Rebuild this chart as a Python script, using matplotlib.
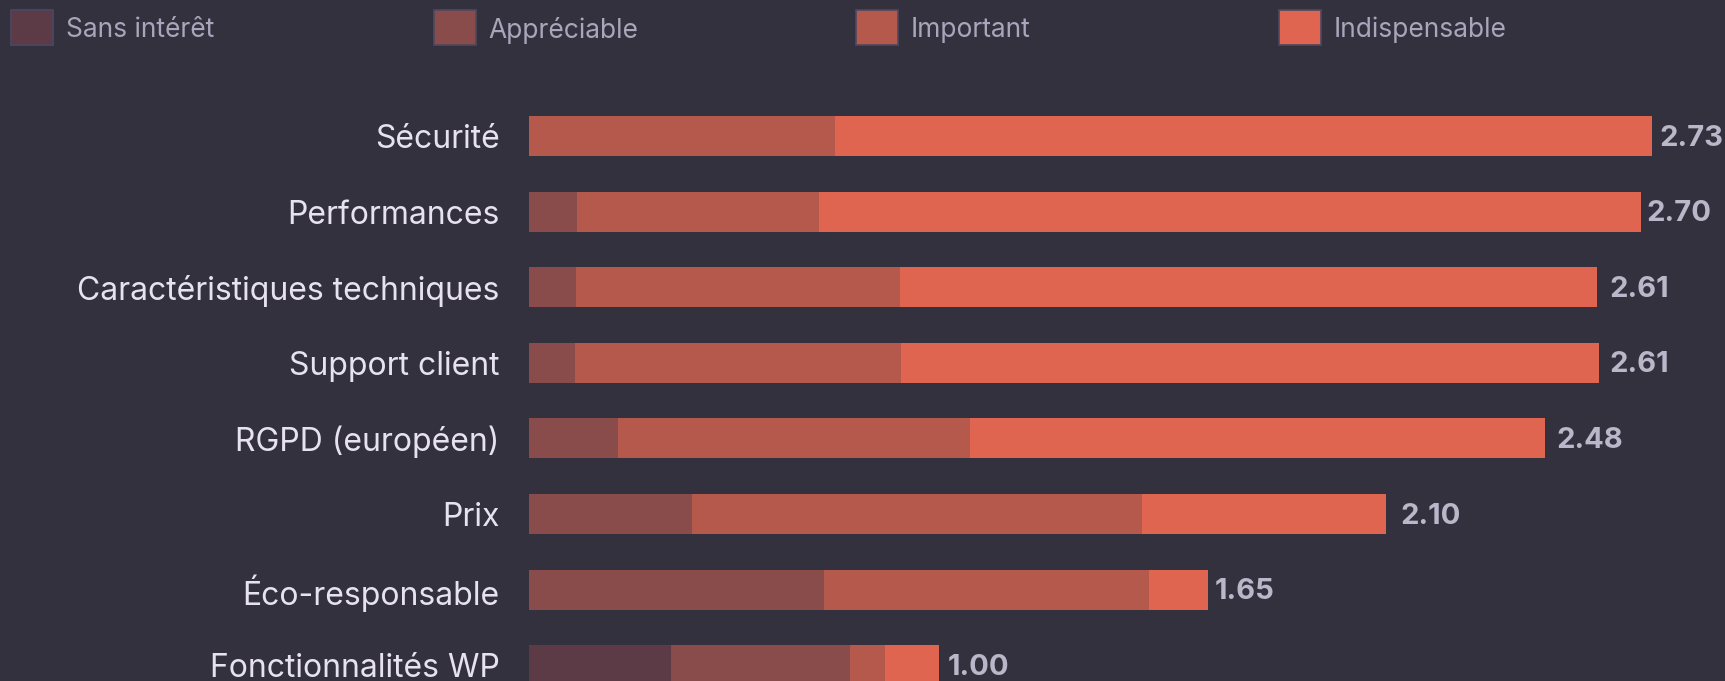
import matplotlib
matplotlib.use("Agg")
import matplotlib.pyplot as plt
from matplotlib.patches import Rectangle

categories = ["Sécurité", "Performances", "Caractéristiques techniques", "Support client",
              "RGPD (européen)", "Prix", "Éco-responsable", "Fonctionnalités WP"]
levels = ["Sans intérêt", "Appréciable", "Important", "Indispensable"]
sans_interet = [0.0, 0.0, 0.0, 0.0, 0.0, 0.0, 0.0, 0.345]
appreciable = [0.0, 0.117, 0.114, 0.112, 0.217, 0.397, 0.718, 0.436]
important = [0.745, 0.589, 0.788, 0.793, 0.856, 1.092, 0.788, 0.085]
indispensable = [1.985, 1.998, 1.693, 1.696, 1.397, 0.594, 0.144, 0.131]
scores = [2.73, 2.70, 2.61, 2.61, 2.48, 2.10, 1.65, 1.00]

colors = ["#5c3b46", "#8a4b4b", "#b4594c", "#e06550"]
BG = "#34313f"

W, H = 1725, 681
fig = plt.figure(figsize=(W / 100, H / 100), dpi=100, facecolor=BG)
x0 = 529
ax = fig.add_axes([x0 / W, 0, 1 - x0 / W, 1])
ax.set_facecolor(BG)

px_per_unit = 411.4
ax.set_xlim(0, (W - x0) / px_per_unit)
row = 75.6
top_center = 136
ax.set_ylim((H - top_center) / row, -top_center / row)

series = [sans_interet, appreciable, important, indispensable]
y = list(range(len(categories)))
left = [0.0] * len(categories)
for vals, c in zip(series, colors):
    ax.barh(y, vals, left=left, height=40 / row, color=c, edgecolor="none", linewidth=0)
    left = [l + v for l, v in zip(left, vals)]

for i, s in enumerate(scores):
    ax.annotate(f"{s:.2f}", xy=(s, i), xytext=(7, -2), textcoords="offset pixels",
                ha="left", va="center", fontsize=21, fontweight="bold",
                color="#bab7ca", family="Inter")

ax.set_yticks(y)
ax.set_yticklabels(categories, fontsize=23, color="#e6e3ee", family="Inter")
ax.tick_params(axis="y", length=0, pad=21)
ax.tick_params(axis="x", bottom=False, labelbottom=False)
for sp in ax.spines.values():
    sp.set_visible(False)

# legend
for k, (lab, c) in enumerate(zip(levels, colors)):
    lx = 11 + 422.5 * k
    fig.add_artist(Rectangle((lx / W, 1 - 45 / H), 42 / W, 35 / H, transform=fig.transFigure,
                             facecolor=c, edgecolor="#4d4860", linewidth=1.2))
    fig.text((lx + 55) / W, 1 - 30 / H, lab, fontsize=19, color="#a9a5bb",
             family="Inter", ha="left", va="center")

fig.savefig("out.png", dpi=100, facecolor=BG)
